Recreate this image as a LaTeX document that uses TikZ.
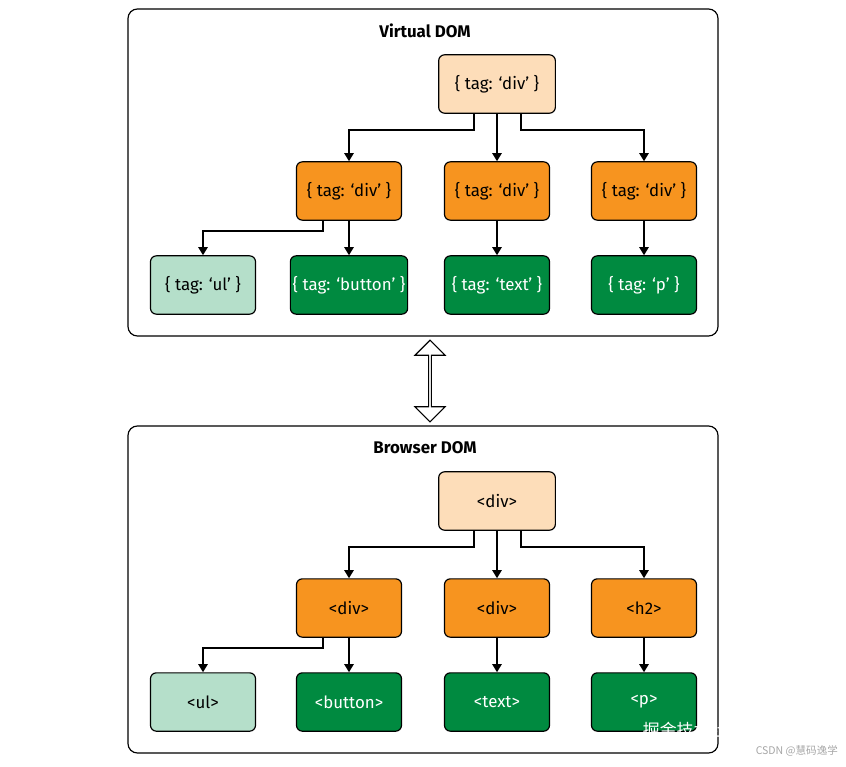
\documentclass[tikz,border=0pt]{standalone}
\usepackage{fontspec}
\setmainfont{Fira Sans}
\newfontfamily\cjk{Noto Sans CJK SC}
\usetikzlibrary{arrows.meta,shapes.arrows}
\definecolor{peach}{HTML}{FDDDB9}
\definecolor{orng}{HTML}{F7941F}
\definecolor{grn}{HTML}{008A40}
\definecolor{mint}{HTML}{B5DFCA}
\tikzset{
  box/.style={draw, line width=1pt, rounded corners=5pt, minimum height=1.75cm, inner sep=2pt, font=\Large},
  root/.style={box, fill=peach, minimum width=3.5cm},
  mid/.style={box, fill=orng, minimum width=3.15cm},
  leaf/.style={box, fill=grn, text=white, minimum width=3.15cm},
  ulbox/.style={box, fill=mint, minimum width=3.15cm},
  link/.style={line width=1.6pt, -{Triangle[length=7pt,width=8pt]}},
  panel/.style={draw, line width=1pt, rounded corners=8pt}
}
\begin{document}
\begin{tikzpicture}[x=0.03cm,y=-0.03cm]
    \useasboundingbox (0,0) rectangle (846,767);
    % two trees, virtual on top, browser below
    \foreach \dy/\ttl/\ra/\ma/\mb/\mc/\la/\lb/\lc/\ld/\s in {
        0/Virtual DOM/{\{ tag: `div' \}}/{\{ tag: `div' \}}/{\{ tag: `div' \}}/{\{ tag: `div' \}}/{\{ tag: `ul' \}}/{\{ tag: `button' \}}/{\{ tag: `text' \}}/{\{ tag: `p' \}}/v,
        417/Browser DOM/{<div>}/{<div>}/{<div>}/{<h2>}/{<ul>}/{<button>}/{<text>}/{<p>}/b} {
        % panel and title
        \draw[panel] (128,9+\dy) rectangle (718,336+\dy);
        \node[font=\Large\bfseries] (\s title) at (425,31+\dy) {\ttl};
        % nodes
        \node[root] (\s r) at (497,84+\dy) {\ra};
        \node[mid] (\s m1) at (349,191+\dy) {\ma};
        \node[mid] (\s m2) at (497,191+\dy) {\mb};
        \node[mid] (\s m3) at (644,191+\dy) {\mc};
        \node[ulbox] (\s l1) at (203,285+\dy) {\la};
        \node[leaf] (\s l2) at (349,285+\dy) {\lb};
        \node[leaf] (\s l3) at (497,285+\dy) {\lc};
        \node[leaf] (\s l4) at (644,285+\dy) {\ld};
        % connectors
        \draw[link] ([xshift=-0.69cm]\s r.south) |- (349,130+\dy) -- (\s m1.north);
        \draw[link] (\s r.south) -- (\s m2.north);
        \draw[link] ([xshift=0.72cm]\s r.south) |- (644,130+\dy) -- (\s m3.north);
        \draw[link] ([xshift=-0.78cm]\s m1.south) |- (203,231+\dy) -- (\s l1.north);
        \draw[link] (\s m1.south) -- (\s l2.north);
        \draw[link] (\s m2.south) -- (\s l3.north);
        \draw[link] (\s m3.south) -- (\s l4.north);
    }
    % double arrow between panels
    \node[draw, line width=1pt, double arrow, double arrow head extend=5pt, minimum width=0.9cm,
          minimum height=2.45cm, rotate=90, inner sep=0pt] (sync) at (430,381) {};
    % watermark
    \node[text=white, font=\cjk\Large, anchor=east] (wm1) at (842,731) {掘金技术社区 @ Java私教};
    \node[text=gray!70, font=\cjk\small, anchor=east] (wm2) at (842,751) {CSDN @慧码逸学};
\end{tikzpicture}
\end{document}
